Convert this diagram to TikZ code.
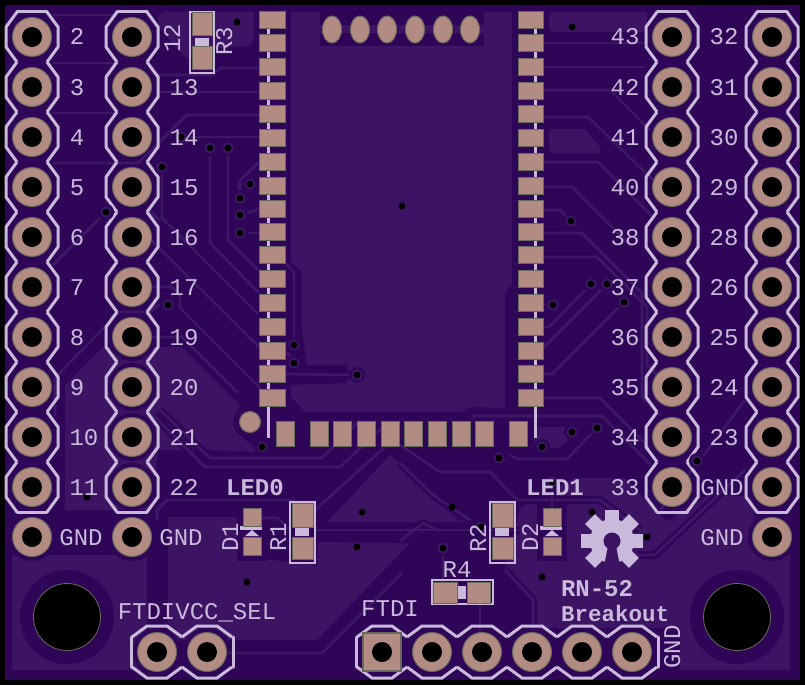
\documentclass[tikz,border=0pt]{standalone}
\usepackage{fontspec}
\setmainfont{Liberation Mono}
\definecolor{board}{HTML}{2F0657}
\definecolor{pour}{HTML}{3D1464}
\definecolor{trace}{HTML}{3F1767}
\definecolor{silk}{HTML}{C9B9DA}
\definecolor{padc}{HTML}{B28C82}
\definecolor{padedge}{HTML}{68685C}
\tikzset{
  silkline/.style={draw=silk,line width=3pt,line join=miter},
  pourfill/.style={fill=pour,draw=none},
  cleartrace/.style={draw=board,line width=8pt,line join=round},
  coppertrace/.style={draw=trace,line width=2.7pt,line join=round},
  txt/.style={text=silk,font=\fontsize{24}{24}\selectfont,anchor=base,inner sep=0pt},
  btxt/.style={txt,font=\fontsize{24}{24}\selectfont\bfseries},
  bsmall/.style={txt,font=\fontsize{22.5}{24}\selectfont\bfseries},
  smd/.style={fill=padc,draw=padedge,line width=1pt},
}
\newcommand\lbl[5][txt]{\node[#1] (#2) at (#3,{#4+8}) {#5};}
\newcommand\rlbl[4]{\node[txt,rotate=90] (#1) at ({#2+8},#3) {#4};}
\newcommand\vhdr[3]{%
  \foreach \k in {0,...,#3}{
    \pgfmathsetmacro\yy{#2+50*\k}
    \draw[silkline] ({#1-15},{\yy-25})--({#1-26},{\yy-10})--({#1-26},{\yy+10})--({#1-15},{\yy+25});
    \draw[silkline] ({#1+15},{\yy-25})--({#1+26},{\yy-10})--({#1+26},{\yy+10})--({#1+15},{\yy+25});
  }
  \draw[silkline,line cap=round] ({#1-15},{#2-25})--({#1+15},{#2-25});
  \draw[silkline,line cap=round] ({#1-15},{#2+50*#3+25})--({#1+15},{#2+50*#3+25});
}
\newcommand\hhdr[3]{%
  \foreach \k in {0,...,#3}{
    \pgfmathsetmacro\xx{#1+50*\k}
    \draw[silkline] ({\xx-25},{#2-15})--({\xx-10},{#2-26})--({\xx+10},{#2-26})--({\xx+25},{#2-15});
    \draw[silkline] ({\xx-25},{#2+15})--({\xx-10},{#2+26})--({\xx+10},{#2+26})--({\xx+25},{#2+15});
  }
  \draw[silkline,line cap=round] ({#1-26},{#2-15})--({#1-26},{#2+15});
  \draw[silkline,line cap=round] ({#1+50*#3+26},{#2-15})--({#1+50*#3+26},{#2+15});
}
\newcommand\pinpad[2]{%
  \fill[padc,draw=padedge,line width=1pt] (#1,#2) circle (19.5);
  \fill[black] (#1,#2) circle (10);
}
\newcommand\via[2]{%
  \fill[board] (#1,#2) circle (8);
  \fill[trace] (#1,#2) circle (5.5);
  \fill[black] (#1,#2) circle (3.5);
}
\def\alltraces{%
  % top-left
  \draw[tr] (53,15)--(117,15);
  \draw[tr] (53,63)--(117,63);
  \draw[tr] (53,113)--(117,113);
  \draw[tr] (53,163)--(138,163)--(187,115)--(259,115);
  \draw[tr] (160,92)--(259,92);
  \draw[tr] (181,137)--(259,137);
  \draw[tr] (157,75)--(213,75)--(220,68)--(259,68);
  \draw[tr] (210,148)--(210,243)--(258,292);
  \draw[tr] (228,148)--(228,240)--(258,270);
  \draw[tr] (162,167)--(162,218)--(258,314);
  \draw[tr] (147,208)--(160,221);
  \draw[tr] (147,236)--(262,350);
  \draw[tr] (259,162)--(239,182)--(239,198);
  \draw[tr] (106,212)--(53,265);
  \draw[tr] (240,215)--(259,209);
  \draw[tr] (240,233)--(259,233);
  \draw[tr] (240,198)--(240,185)--(250,184);
  % pin 7 / 8 / 9 side
  \draw[tr] (150,287)--(172,287)--(180,295)--(180,308)--(260,388);
  \draw[tr] (168,305)--(158,305)--(150,312)--(119,312)--(55,378)--(55,416);
  \draw[tr] (150,337)--(182,337)--(238,393);
  % under module bottom
  \draw[tr] (153,415)--(205,467)--(340,467)--(385,425);
  \draw[tr] (160,410)--(210,458)--(322,458)--(360,420);
  % led0 zone
  \draw[tr] (157,520)--(157,510)--(167,500)--(295,500);
  \draw[tr] (262,518)--(278,518)--(290,530);
  \draw[tr] (315,530)--(520,530);
  \draw[tr] (315,510)--(387,445)--(400,445)--(440,472)--(490,472)--(517,500)--(600,500)--(640,530);
  \draw[tr] (400,463)--(433,495)--(470,520);
  \draw[tr] (227,653)--(322,653)--(402,573);
  \draw[tr] (400,541)--(423,523)--(437,530);
  \draw[tr] (443,548)--(443,582);
  \draw[tr] (480,603)--(480,632);
  \draw[tr] (505,570)--(533,600)--(533,630);
  \draw[tr] (552,482)--(552,510);
  \draw[tr] (638,555)--(655,555)--(745,470);
  \draw[tr] (745,400)--(700,460)--(660,510);
  % top-right
  \draw[tr] (543,43)--(647,43);
  \draw[tr] (543,67)--(645,67);
  \draw[tr] (543,90)--(610,90)--(650,130);
  \draw[tr] (543,117)--(588,117)--(653,180);
  \draw[tr] (543,162)--(598,162)--(653,217);
  \draw[tr] (543,187)--(572,187)--(632,247);
  \draw[tr] (543,210)--(560,210)--(571,221);
  \draw[tr] (543,233)--(582,233)--(642,293)--(642,397)--(660,415);
  \draw[tr] (543,257)--(597,257)--(647,307)--(647,365)--(658,376);
  \draw[tr] (543,327)--(549,327)--(591,284);
  \draw[tr] (543,348)--(607,284);
  \draw[tr] (543,374)--(552,374)--(624,302);
  \draw[tr] (543,398)--(600,398)--(650,448);
  \draw[tr] (472,416)--(602,416)--(650,464);
  \draw[tr] (510,455)--(517,459)--(567,459)--(597,428);
  \draw[tr] (543,305)--(553,305);
  % inner connector
  \draw[tr] (285,374)--(357,375);
  \draw[tr] (294,345)--(294,272)--(286,264);
  \draw[tr] (285,350)--(294,363);
}
\begin{document}
\begin{tikzpicture}[x=1pt,y=-1pt]
\useasboundingbox (0,0) rectangle (805,685);
\fill[black] (0,0) rectangle (805,685);
\fill[board] (5,5) rectangle (800,680);
% --- copper pours ---
\fill[pourfill] (288,12)--(515,12)--(515,30)--(512,33)--(512,285)--(505,292)--(505,408)--(470,407)--(463,412)--(305,412)--(291,397)--(291,385)--(347,383)--(347,365)--(307,365)--(302,330)--(302,272)--(291,262)--(291,33)--(288,30)--cycle;
\fill[pourfill] (158,15)--(165,12)--(255,12)--(258,30)--(250,46)--(220,48)--(188,58)--(178,50)--(158,25)--cycle;
\fill[pourfill] (548,17)--(552,12)--(647,12)--(647,32)--(552,32)--(548,27)--cycle;
\fill[pourfill] (548,133)--(552,129)--(585,129)--(600,147)--(600,153)--(552,153)--(548,148)--cycle;
\fill[pourfill] (103,347)--(182,347)--(240,405)--(232,425)--(243,438)--(260,452)--(210,450)--(158,450)--(150,510)--(65,510)--(65,385)--cycle;
\fill[pourfill] (12,555)--(147,555)--(147,670)--(12,670)--cycle;
\fill[pourfill] (168,517)--(237,517)--(237,556)--(317,565)--(318,542)--(410,543)--(317,640)--(168,640)--cycle;
\fill[pourfill] (327,522)--(390,455)--(458,520)--(470,522)--cycle;
\fill[pourfill] (537,427)--(580,427)--(572,437)--(560,448)--(533,448)--cycle;
\fill[pourfill] (520,508)--(575,478)--(625,478)--(667,522)--(682,510)--(710,495)--(752,497)--(755,540)--(790,555)--(790,670)--(680,670)--(680,628)--(537,628)--(537,600)--(505,568)--cycle;
% --- clearances ---
\foreach \yy in {0,...,9}{
  \foreach \xx in {32,132,672,772}{\fill[board] (\xx,{37+50*\yy}) circle (24);}
}
\foreach \xx in {32,132,772}{\fill[board] (\xx,537) circle (24);}
\foreach \xx in {157,207,382,432,482,532,582,632}{\fill[board] (\xx,652) circle (24);}
\fill[board] (67,617) circle (47);
\fill[board] (737,617) circle (47);
\fill[board] (250,422) circle (17);
\fill[board] (237,503) rectangle (267,561);
\fill[board] (537,503) rectangle (567,561);
\fill[board] (320,6) rectangle (484,46);
\fill[pour] (320,25) rectangle (484,33);
\foreach \yy in {20,43,67,90.5,114,138,161.5,185.5,209,232,255,279,303,327,350.5,374,398}{
  \fill[board] (254,{\yy-13}) rectangle (291,{\yy+13});
  \fill[board] (512,{\yy-13}) rectangle (549,{\yy+13});
}
\foreach \xx in {285,319,342,366,390,413,437,461,484,518}{
  \fill[board] ({\xx-13},415) rectangle ({\xx+13},452);
}
\begin{scope}[tr/.style={cleartrace}]\alltraces\end{scope}
\begin{scope}[tr/.style={coppertrace}]\alltraces\end{scope}
% --- silkscreen ---
\draw[draw=silk,line width=3pt] (268.5,12)--(268.5,438);
\draw[draw=silk,line width=3pt] (535.5,12)--(535.5,438);
\vhdr{32}{37}{9}
\vhdr{132}{37}{9}
\vhdr{672}{37}{9}
\vhdr{772}{37}{9}
\hhdr{157}{652}{1}
\hhdr{382}{652}{5}
\draw[draw=silk,line width=2.5pt] (190,12) rectangle (214,73);
\fill[silk] (195,38) rectangle (209,46);
\draw[draw=silk,line width=2.5pt] (290,502) rectangle (315,563);
\fill[silk] (295,528) rectangle (309,536);
\draw[draw=silk,line width=2.5pt] (490,502) rectangle (515,563);
\fill[silk] (495,528) rectangle (509,536);
\draw[draw=silk,line width=2.5pt] (432,580) rectangle (493,604);
\fill[silk] (458,586) rectangle (466,599);
% diodes
\fill[silk] (240,526) rectangle (262,530);
\fill[silk] (252,530)--(245,536)--(259,536)--cycle;
\fill[silk] (540,526) rectangle (562,530);
\fill[silk] (552,530)--(545,536)--(559,536)--cycle;
% gear logo
\begin{scope}[shift={(612,541)}]
  \foreach \a in {0,45,90,135,180,225,315}{
    \fill[silk,rotate=\a] (18,-7) rectangle (31,7);
  }
  \fill[silk] (0,0) circle (22);
  \fill[pour] (0,0) circle (8.5);
  \fill[pour] (-3,0)--(3,0)--(9,30)--(-9,30)--cycle;
\end{scope}
% --- SMD pads ---
\foreach \yy in {20,43,67,90.5,114,138,161.5,185.5,209,232,255,279,303,327,350.5,374,398}{
  \fill[smd] (259.5,{\yy-8.5}) rectangle (285,{\yy+8.5});
  \fill[smd] (518.5,{\yy-8.5}) rectangle (543.5,{\yy+8.5});
}
\foreach \xx in {285,319,342,366,390,413,437,461,484,518}{
  \fill[smd] ({\xx-9},421.5) rectangle ({\xx+9},446.5);
}
\foreach \xx in {332,360,387,415,443,470}{
  \fill[padc,draw=padedge,line width=1pt] (\xx,29.5) ellipse (9.5 and 13.5);
}
\fill[padc,draw=padedge,line width=1pt] (250,422) circle (10.5);
\fill[smd] (192,13) rectangle (212,36);
\fill[smd] (192,47) rectangle (212,69);
\fill[smd] (292,503) rectangle (313,527);
\fill[smd] (292,537) rectangle (313,559);
\fill[smd] (492,503) rectangle (513,527);
\fill[smd] (492,537) rectangle (513,559);
\fill[smd] (433,582) rectangle (457,603);
\fill[smd] (467,582) rectangle (490,603);
\fill[smd] (243,508) rectangle (261,526);
\fill[smd] (243,537) rectangle (261,555);
\fill[smd] (543,508) rectangle (561,526);
\fill[smd] (543,537) rectangle (561,555);
% --- through-hole pads ---
\foreach \yy in {0,...,9}{
  \foreach \xx in {32,132,672,772}{\pinpad{\xx}{{37+50*\yy}}}
}
\foreach \xx in {32,132,772}{\pinpad{\xx}{537}}
\foreach \xx in {157,207,432,482,532,582,632}{\pinpad{\xx}{652}}
\fill[padc,draw=padedge,line width=1.5pt] (363,633) rectangle (401,671);
\fill[black] (382,652) circle (10);
% mounting holes
\fill[black,draw=padedge,line width=.8pt] (67,617) circle (33.5);
\fill[black,draw=padedge,line width=.8pt] (737,617) circle (33.5);
% --- vias ---
\foreach \vx/\vy in {210/148,228/148,181/137,162/167,250/184,240/198,240/215,240/233,106/212,571/221,591/284,607/284,624/302,553/305,168/305,294/345,294/363,357/375,262/447,572/432,597/428,542/447,499/458,697/461,552/482,481/527,443/548}{
  \via{\vx}{\vy}
}
\foreach \vx/\vy in {237/22,572/27,402/206,87/497,362/512,452/507,592/512,647/537,357/547,542/577,247/582}{
  \fill[black] (\vx,\vy) circle (3.5);
}
% --- labels ---
\foreach \t [count=\i from 0] in {2,3,4,5,6,7,8,9,10,11}{
  \pgfmathsetmacro\lx{\i>7?84:77}
  \lbl{a\i}{\lx}{37+50*\i}{\t}
}
\foreach \t [count=\i from 1] in {13,14,15,16,17,19,20,21,22}{\lbl{b\i}{184}{37+50*\i}{\t}}
\foreach \t [count=\i from 0] in {43,42,41,40,38,37,36,35,34,33}{\lbl{c\i}{625}{37+50*\i}{\t}}
\foreach \t [count=\i from 0] in {32,31,30,29,28,26,25,24,23}{\lbl{d\i}{724}{37+50*\i}{\t}}
\lbl{gnda}{722}{487}{GND}
\lbl{gndb}{81}{537}{GND}
\lbl{gndc}{181}{537}{GND}
\lbl{gndd}{722}{537}{GND}
\lbl[btxt]{ledz}{255}{487}{LED0}
\lbl[btxt]{ledo}{555}{487}{LED1}
\lbl[btxt]{rn}{597}{588}{RN-52}
\lbl[bsmall]{brk}{615}{613}{Breakout}
\lbl{sel}{197}{611}{FTDIVCC\_SEL}
\lbl{ftdi}{390}{608}{FTDI}
\lbl{rf}{457}{569}{R4}
\rlbl{tw}{172}{38}{12}
\rlbl{rt}{224}{41}{R3}
\rlbl{do}{230}{537}{D1}
\rlbl{ro}{278}{537}{R1}
\rlbl{rw}{478}{538}{R2}
\rlbl{dw}{530}{537}{D2}
\rlbl{gnde}{672}{647}{GND}
\end{tikzpicture}
\end{document}
